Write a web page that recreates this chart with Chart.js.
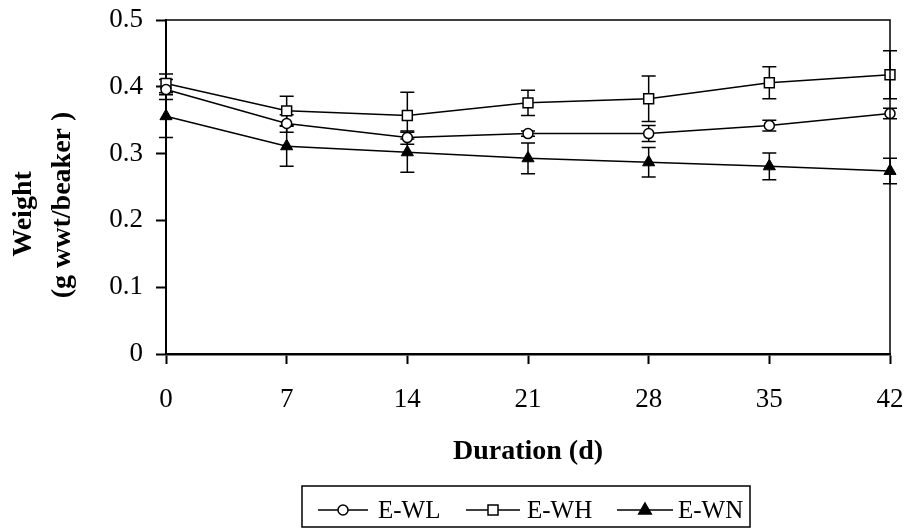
<!DOCTYPE html>
<html>
<head>
<meta charset="utf-8">
<script src="https://cdn.jsdelivr.net/npm/chart.js@4.4.0/dist/chart.umd.min.js"></script>
<style>
  body { margin: 0; background: #fff; }
</style>
</head>
<body>
<canvas id="myChart" width="909" height="529"></canvas>
<script>
// sampling days and values
var days = [0, 7, 14, 21, 28, 35, 42];

var ewl = [0.396, 0.345, 0.324, 0.330, 0.330, 0.342, 0.360];
var ewlErr = [0.015, 0.013, 0.010, 0.004, 0.012, 0.008, 0.008];

var ewh = [0.405, 0.364, 0.357, 0.376, 0.382, 0.406, 0.418];
var ewhErr = [0.014, 0.022, 0.035, 0.019, 0.034, 0.024, 0.036];

var ewn = [0.356, 0.311, 0.302, 0.293, 0.287, 0.281, 0.274];
var ewnErr = [0.032, 0.030, 0.030, 0.023, 0.022, 0.020, 0.019];

var FONT = '"Liberation Serif", "Times New Roman", serif';

function pts(arr) {
  return arr.map(function (v, i) { return { x: days[i], y: v }; });
}

// error bars drawn under the markers
var errorBars = {
  id: 'errorBars',
  beforeDatasetsDraw: function (chart) {
    var ctx = chart.ctx, xs = chart.scales.x, ys = chart.scales.y;
    ctx.save();
    ctx.strokeStyle = '#000';
    ctx.lineWidth = 1.5;
    chart.data.datasets.forEach(function (ds) {
      ds.data.forEach(function (p, i) {
        var x = xs.getPixelForValue(p.x);
        var t = ys.getPixelForValue(p.y + ds.errors[i]);
        var b = ys.getPixelForValue(p.y - ds.errors[i]);
        ctx.beginPath();
        ctx.moveTo(x, t); ctx.lineTo(x, b);
        ctx.moveTo(x - 7, t); ctx.lineTo(x + 7, t);
        ctx.moveTo(x - 7, b); ctx.lineTo(x + 7, b);
        ctx.stroke();
      });
    });
    ctx.restore();
  }
};

function drawMarker(ctx, style, x, y, fill) {
  ctx.beginPath();
  if (style === 'circle') {
    ctx.arc(x, y, 5, 0, Math.PI * 2);
  } else if (style === 'rect') {
    ctx.rect(x - 5, y - 5, 10, 10);
  } else {
    ctx.moveTo(x, y - 7);
    ctx.lineTo(x + 6.3, y + 4);
    ctx.lineTo(x - 6.3, y + 4);
    ctx.closePath();
  }
  ctx.fillStyle = fill;
  ctx.fill();
  ctx.stroke();
}

// plot frame, y title and boxed legend
var extras = {
  id: 'extras',
  afterDraw: function (chart) {
    var ctx = chart.ctx, a = chart.chartArea;
    ctx.save();
    ctx.strokeStyle = '#000';
    ctx.lineWidth = 1.5;
    ctx.beginPath();
    ctx.moveTo(a.left, a.top);
    ctx.lineTo(a.right, a.top);
    ctx.lineTo(a.right, a.bottom);
    ctx.stroke();

    ctx.fillStyle = '#000';
    ctx.font = 'bold 28px ' + FONT;
    ctx.textAlign = 'center';
    ctx.textBaseline = 'middle';
    ctx.save();
    ctx.translate(24, 214);
    ctx.rotate(-Math.PI / 2);
    ctx.fillText('Weight', 0, 0);
    ctx.restore();
    ctx.save();
    ctx.translate(63, 205);
    ctx.rotate(-Math.PI / 2);
    ctx.fillText('(g wwt/beaker )', 0, 0);
    ctx.restore();

    // legend
    ctx.lineWidth = 1.5;
    ctx.strokeRect(302, 486, 448, 41);
    var items = [
      { x0: 318, x1: 368, tx: 378 },
      { x0: 466, x1: 520, tx: 527 },
      { x0: 617, x1: 673, tx: 678 }
    ];
    var ly = 510;
    chart.data.datasets.forEach(function (ds, i) {
      var it = items[i];
      ctx.beginPath();
      ctx.moveTo(it.x0, ly); ctx.lineTo(it.x1, ly);
      ctx.stroke();
      drawMarker(ctx, ds.pointStyle, (it.x0 + it.x1) / 2, ly, ds.pointBackgroundColor);
      ctx.fillStyle = '#000';
      ctx.font = '25px ' + FONT;
      ctx.textAlign = 'left';
      ctx.fillText(ds.label, it.tx, ly + 1);
    });
    ctx.restore();
  }
};

var ctx = document.getElementById('myChart');
new Chart(ctx, {
  type: 'line',
  data: {
    datasets: [
      {
        label: 'E-WL', data: pts(ewl), errors: ewlErr,
        borderColor: '#000', borderWidth: 1.5,
        pointStyle: 'circle', pointRadius: 5,
        pointBackgroundColor: '#fff', pointBorderColor: '#000', pointBorderWidth: 1.5,
        clip: false
      },
      {
        label: 'E-WH', data: pts(ewh), errors: ewhErr,
        borderColor: '#000', borderWidth: 1.5,
        pointStyle: 'rect', pointRadius: 7,
        pointBackgroundColor: '#fff', pointBorderColor: '#000', pointBorderWidth: 1.5,
        clip: false
      },
      {
        label: 'E-WN', data: pts(ewn), errors: ewnErr,
        borderColor: '#000', borderWidth: 1.5,
        pointStyle: 'triangle', pointRadius: 7,
        pointBackgroundColor: '#000', pointBorderColor: '#000', pointBorderWidth: 1,
        clip: false
      }
    ]
  },
  options: {
    responsive: false,
    animation: false,
    layout: { padding: { top: 20, right: 19, left: 0, bottom: 0 } },
    plugins: {
      legend: { display: false },
      tooltip: { enabled: false }
    },
    scales: {
      x: {
        type: 'linear',
        min: 0, max: 42,
        afterFit: function (s) { s.height = 175; s.paddingRight = 0; s.paddingLeft = 0; },
        ticks: { stepSize: 7, color: '#000', padding: 20, font: { family: FONT, size: 27 } },
        grid: { drawOnChartArea: false, tickLength: 10, tickColor: '#000', tickWidth: 2 },
        border: { color: '#000', width: 2.5 },
        title: {
          display: true, text: 'Duration (d)', color: '#000',
          font: { family: FONT, size: 28, weight: 'bold' },
          padding: { top: 0, bottom: 60 }
        }
      },
      y: {
        min: 0, max: 0.5,
        afterFit: function (s) { s.width = 166; s.paddingTop = 0; s.paddingBottom = 0; },
        ticks: {
          stepSize: 0.1, color: '#000', padding: 13,
          font: { family: FONT, size: 27 },
          callback: function (v) { return v === 0 ? '0' : v.toFixed(1); }
        },
        grid: { drawOnChartArea: false, tickLength: 10, tickColor: '#000', tickWidth: 2 },
        border: { color: '#000', width: 2 }
      }
    }
  },
  plugins: [errorBars, extras]
});
</script>
</body>
</html>
